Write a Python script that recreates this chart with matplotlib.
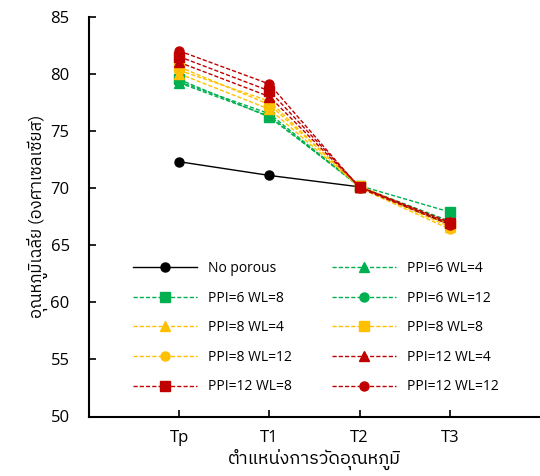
import numpy as np
import matplotlib
matplotlib.use("Agg")
import matplotlib.pyplot as plt
from matplotlib import font_manager
from matplotlib.ft2font import FT2Font

positions = ["Tp", "T1", "T2", "T3"]

no_porous = [72.3, 71.1, 70.1, 66.8]
ppi6_wl4 = [79.2, 76.3, 70.1, 67.1]
ppi6_wl8 = [79.5, 76.2, 70.2, 67.9]
ppi6_wl12 = [79.3, 76.5, 70.1, 66.9]
ppi8_wl4 = [80.0, 76.9, 70.1, 66.6]
ppi8_wl8 = [80.6, 77.3, 70.2, 66.8]
ppi8_wl12 = [80.3, 77.6, 70.0, 66.4]
ppi12_wl4 = [81.0, 78.0, 70.1, 67.0]
ppi12_wl8 = [81.5, 78.5, 70.1, 66.9]
ppi12_wl12 = [82.0, 79.1, 70.0, 66.8]

labels = ["No porous", "PPI=6 WL=4", "PPI=6 WL=8", "PPI=6 WL=12",
          "PPI=8 WL=4", "PPI=8 WL=8", "PPI=8 WL=12",
          "PPI=12 WL=4", "PPI=12 WL=8", "PPI=12 WL=12"]


def find_thai_fonts():
    # installed fonts that actually have Thai glyphs, sans ones first
    found = []
    for path in font_manager.findSystemFonts():
        try:
            f = FT2Font(path)
            if f.get_char_index(ord("ต")) and f.get_char_index(ord("อ")):
                found.append(font_manager.FontProperties(fname=path).get_name())
        except Exception:
            continue
    found = sorted(set(found), key=lambda n: ("Mono" in n, "Sans" not in n, n))
    return found


thai_fonts = find_thai_fonts()
plt.rcParams["font.family"] = ["Open Sans", "DejaVu Sans"]
thai_family = thai_fonts[:1] + ["DejaVu Sans"]

green = "#00B050"
yellow = "#FFC000"
red = "#C00000"

series = [
    (no_porous, "black", "o", "-"),
    (ppi6_wl4, green, "^", "--"),
    (ppi6_wl8, green, "s", "--"),
    (ppi6_wl12, green, "o", "--"),
    (ppi8_wl4, yellow, "^", "--"),
    (ppi8_wl8, yellow, "s", "--"),
    (ppi8_wl12, yellow, "o", "--"),
    (ppi12_wl4, red, "^", "--"),
    (ppi12_wl8, red, "s", "--"),
    (ppi12_wl12, red, "o", "--"),
]

fig, ax = plt.subplots(figsize=(5.4, 4.76), dpi=100)
x = np.arange(1, len(positions) + 1)

handles = []
for (vals, c, m, ls), lab in zip(series, labels):
    h, = ax.plot(x, vals, color=c, marker=m, linestyle=ls, linewidth=1,
                 markersize=6.5, label=lab,
                 dashes=(3, 1.5) if ls == "--" else (None, None))
    handles.append(h)

ax.set_xlim(0, 5)
ax.set_ylim(50, 85)
ax.set_yticks(np.arange(50, 86, 5))
ax.set_xticks(x)
ax.set_xticklabels(positions)
ax.tick_params(direction="in", labelsize=12, width=1.2, length=5)
ax.tick_params(axis="x", pad=10)
ax.tick_params(axis="y", pad=14)
ax.spines["top"].set_visible(False)
ax.spines["right"].set_visible(False)
ax.spines["left"].set_linewidth(1.5)
ax.spines["bottom"].set_linewidth(1.5)

ax.set_xlabel("ตำแหน่งการวัดอุณหภูมิ", fontsize=13, labelpad=2, family=thai_family)
ax.set_ylabel("อุณหภูมิเฉลี่ย (องศาเซลเซียส)", fontsize=12, labelpad=2, family=thai_family)

# matplotlib fills legend columns first, so reorder to read row by row
order = list(range(0, 10, 2)) + list(range(1, 10, 2))
ax.legend([handles[i] for i in order], [labels[i] for i in order], ncol=2,
          frameon=False, fontsize=10, handlelength=4.6, columnspacing=2.9,
          labelspacing=1.05, loc="upper left", bbox_to_anchor=(0.07, 0.42))

fig.subplots_adjust(left=0.165, right=1.0, top=0.965, bottom=0.125)
fig.savefig("out.png")
